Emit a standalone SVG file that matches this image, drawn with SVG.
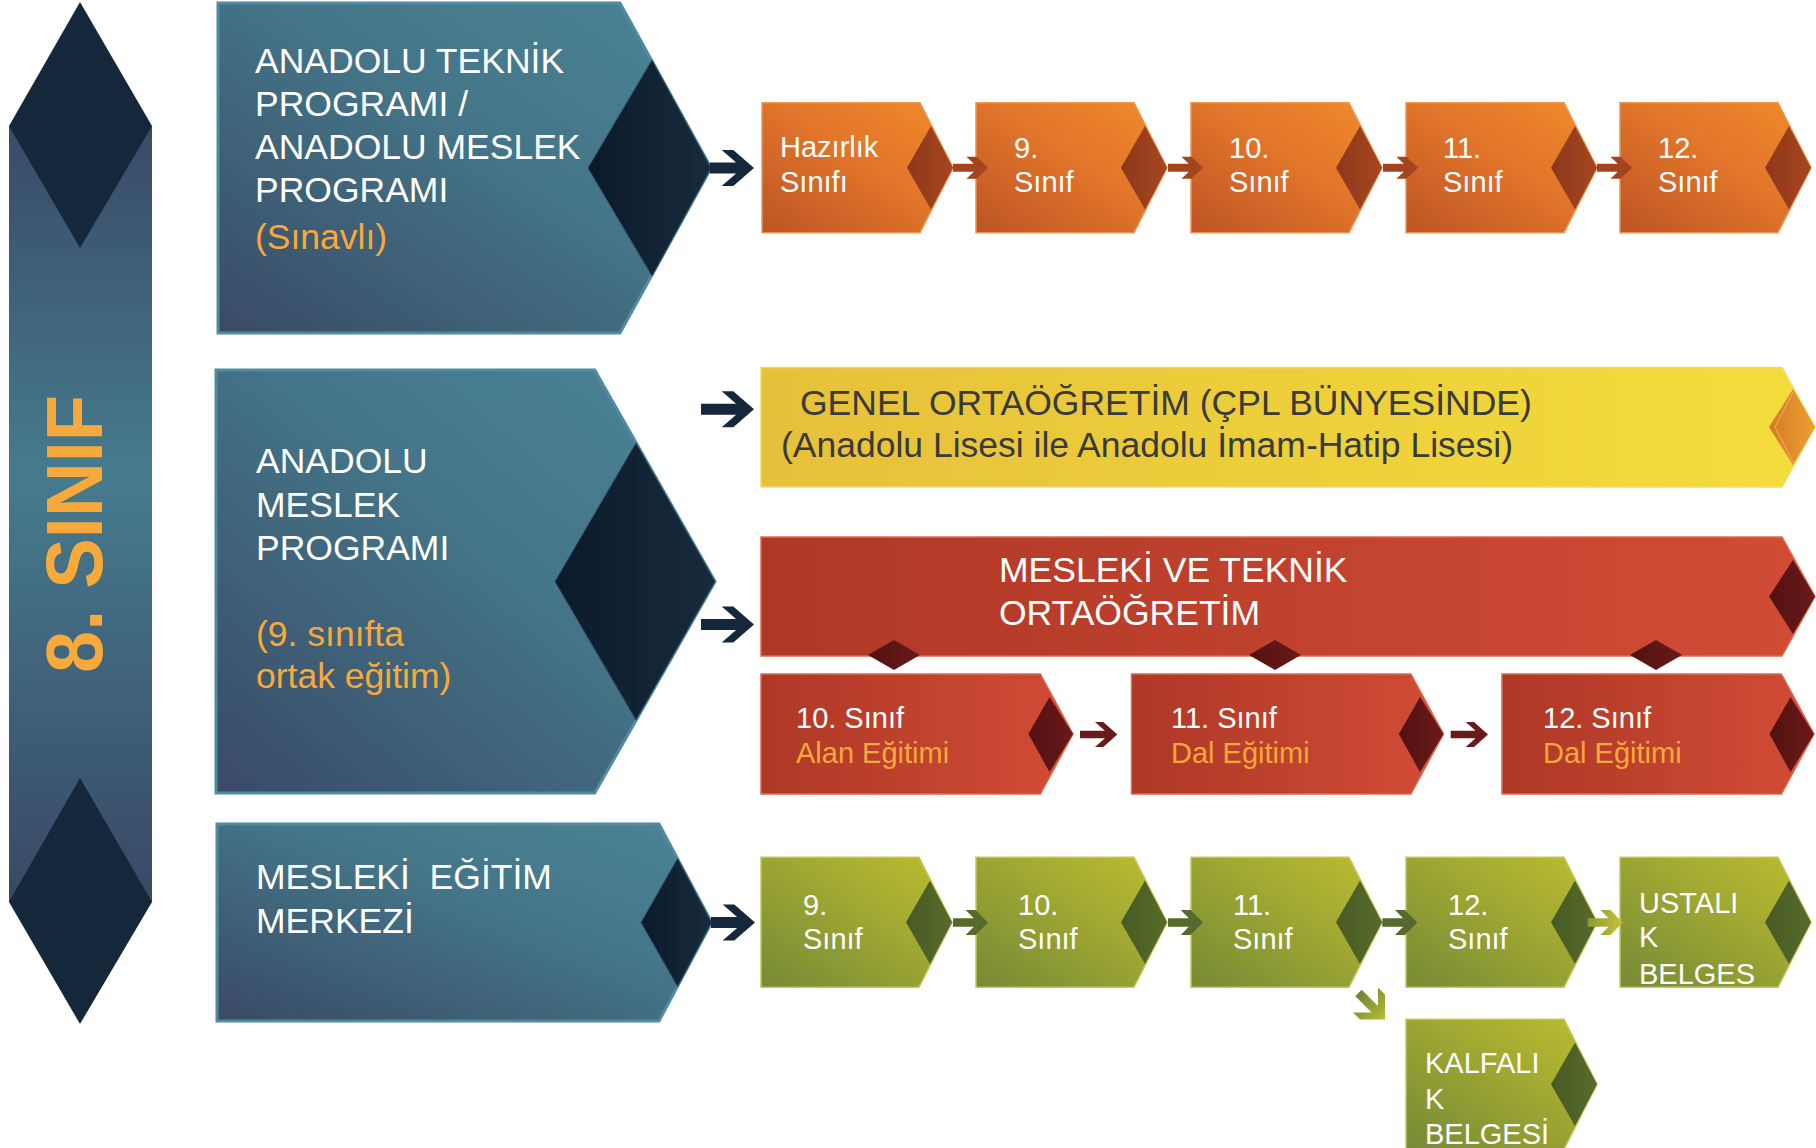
<svg xmlns="http://www.w3.org/2000/svg" xmlns:xlink="http://www.w3.org/1999/xlink" width="1816" height="1148" viewBox="0 0 1816 1148">
<defs>
<style>
text{font-family:"Liberation Sans",Arial,sans-serif;}
.w{fill:#ffffff;}
.o{fill:#f7a93b;}
.d{fill:#3a3a3a;}
.t35{font-size:35.5px;}
.t29{font-size:29px;}
.blue{fill:url(#gBlue);stroke:#4f8ca1;stroke-width:3;}
.navy{fill:url(#gNavy);stroke:#2e4a62;stroke-width:1;}
.orb{fill:url(#gOrange);stroke:#ec9650;stroke-width:1.5;}
.ord{fill:url(#gOrDia);}
.grb{fill:url(#gGreen);stroke:#c6c65a;stroke-width:1.5;}
.grd{fill:url(#gGrDia);}
.rdb{fill:url(#gRed);stroke:#dc6a50;stroke-width:1.5;}
.rdd{fill:url(#gRedDia);}
</style>
<linearGradient id="gBlue" x1="0" y1="1" x2="1" y2="0">
<stop offset="0" stop-color="#394a66"/><stop offset="0.55" stop-color="#447487"/><stop offset="1" stop-color="#4a8597"/>
</linearGradient>
<linearGradient id="gNavy" x1="0" y1="0" x2="1" y2="0">
<stop offset="0" stop-color="#0b1a29"/><stop offset="1" stop-color="#172b3d"/>
</linearGradient>
<linearGradient id="gBar" x1="0" y1="0" x2="0" y2="1">
<stop offset="0" stop-color="#394a68"/><stop offset="0.45" stop-color="#467b8e"/><stop offset="1" stop-color="#384865"/>
</linearGradient>
<linearGradient id="gOrange" x1="0" y1="1" x2="1" y2="0">
<stop offset="0" stop-color="#bd5426"/><stop offset="0.55" stop-color="#e2762a"/><stop offset="1" stop-color="#f08b2a"/>
</linearGradient>
<linearGradient id="gOrDia" x1="0" y1="0" x2="1" y2="0">
<stop offset="0" stop-color="#8c381c"/><stop offset="1" stop-color="#a8461f"/>
</linearGradient>
<linearGradient id="gGreen" x1="0" y1="1" x2="1" y2="0">
<stop offset="0" stop-color="#768a36"/><stop offset="0.6" stop-color="#a2aa32"/><stop offset="1" stop-color="#bdbd30"/>
</linearGradient>
<linearGradient id="gGrDia" x1="0" y1="0" x2="1" y2="0">
<stop offset="0" stop-color="#475b25"/><stop offset="1" stop-color="#566b2b"/>
</linearGradient>
<linearGradient id="gRed" x1="0" y1="0" x2="1" y2="0">
<stop offset="0" stop-color="#ae3826"/><stop offset="1" stop-color="#d24c36"/>
</linearGradient>
<linearGradient id="gRedDia" x1="0" y1="0" x2="1" y2="0">
<stop offset="0" stop-color="#521111"/><stop offset="1" stop-color="#6a1a1a"/>
</linearGradient>
<linearGradient id="gYellow" x1="0" y1="0" x2="1" y2="0">
<stop offset="0" stop-color="#e6c03a"/><stop offset="1" stop-color="#f3dd3b"/>
</linearGradient>
<linearGradient id="gYelDia" x1="0" y1="0" x2="1" y2="0">
<stop offset="0" stop-color="#d27a28"/><stop offset="1" stop-color="#eea032"/>
</linearGradient>
<linearGradient id="gDiag" x1="0" y1="0" x2="1" y2="0">
<stop offset="0" stop-color="#6e8530"/><stop offset="1" stop-color="#b8bc3a"/>
</linearGradient>
<linearGradient id="gLight" x1="0" y1="0" x2="1" y2="0">
<stop offset="0" stop-color="#8e9c32"/><stop offset="1" stop-color="#c2c23c"/>
</linearGradient>
<polygon id="sBox" points="0,0 158,0 191,65 158,130 0,130"/>
<polygon id="sDia" points="169,23.3 191,65 169,106.8 145,65"/>
<polygon id="rBox" points="0,0 279.4,0 312,60 279.4,120 0,120"/>
<polygon id="rDia" points="288.5,23 312,60 288.5,98 267.4,60"/>
<path id="aNavyL" d="M -53,-5.5 L -17.9,-5.5 L -32.3,-18 L -20.7,-18 L 0,0 L -20.7,18 L -32.3,18 L -17.9,5.5 L -53,5.5 Z"/>
<path id="aNavyS" d="M -44,-5.5 L -17.9,-5.5 L -32.3,-18 L -20.7,-18 L 0,0 L -20.7,18 L -32.3,18 L -17.9,5.5 L -44,5.5 Z"/>
<path id="aOr" d="M -35,-4 L -14.2,-4 L -21.6,-11 L -11.6,-11 L 0,0 L -11.6,11 L -21.6,11 L -14.2,4 L -35,4 Z"/>
<path id="aGr" d="M -35,-4.3 L -14.2,-4.3 L -22.3,-12.5 L -12.3,-12.5 L 0,0 L -12.3,12.5 L -22.3,12.5 L -14.2,4.3 L -35,4.3 Z"/>
<path id="aRd" d="M -37.3,-3.7 L -12.4,-3.7 L -22.3,-12.5 L -14,-12.5 L 0,0 L -14,12.5 L -22.3,12.5 L -12.4,3.7 L -37.3,3.7 Z"/>
<path id="aDg" d="M -37.5,-4.5 L -14.5,-4.5 L -27.7,-17.7 L -17.7,-17.7 L 0,0 L -17.7,17.7 L -27.7,17.7 L -14.5,4.5 L -37.5,4.5 Z"/>
</defs>
<rect width="1816" height="1148" fill="#ffffff"/>

<g id="sinif8">
<rect x="9" y="126" width="143" height="776" fill="url(#gBar)"/>
<polygon points="80,2 152,126 80,248 9,126" fill="#15273a"/>
<polygon points="80,778 152,902 80,1024 9,902" fill="#15273a"/>
<text transform="translate(102,534) rotate(-90)" text-anchor="middle" font-size="79" font-weight="bold" fill="#f7a93b" textLength="278" lengthAdjust="spacingAndGlyphs">8. SINIF</text>
</g>

<g id="anadolu-teknik">
<polygon class="blue" points="218,3 620,3 711,168 620,333 218,333"/>
<polygon class="navy" points="652,60 711,168 652,276 588,168"/>
<text class="t35 w" x="255" y="72.7">ANADOLU TEKNİK</text>
<text class="t35 w" x="255" y="116">PROGRAMI /</text>
<text class="t35 w" x="255" y="158.5">ANADOLU MESLEK</text>
<text class="t35 w" x="255" y="201.5">PROGRAMI</text>
<text class="t35 o" x="255" y="249">(Sınavlı)</text>
</g>

<g id="anadolu-meslek">
<polygon class="blue" points="216,370 594.7,370 715,581.5 594.7,793 216,793"/>
<polygon class="navy" points="636,443 715,581.5 636,720 555,581.5"/>
<text class="t35 w" x="256" y="472.7">ANADOLU</text>
<text class="t35 w" x="256" y="516.5">MESLEK</text>
<text class="t35 w" x="256" y="560">PROGRAMI</text>
<text class="t35 o" x="256" y="645.7">(9. sınıfta</text>
<text class="t35 o" x="256" y="688.3">ortak eğitim)</text>
</g>

<g id="mesleki-egitim-merkezi">
<polygon class="blue" points="217,824 659,824 711.5,922.5 659,1021 217,1021"/>
<polygon class="navy" points="677.6,858.5 711.5,922.5 677.6,986.5 641,922.5"/>
<text class="t35 w" x="256" y="889.3" style="white-space:pre">MESLEKİ  EĞİTİM</text>
<text class="t35 w" x="256" y="932.7">MERKEZİ</text>
</g>

<g id="or-hazirlik" transform="translate(762,102.7)">
<use href="#sBox" class="orb"/><use href="#sDia" class="ord"/>
<text class="t29 w" x="18" y="54.5">Hazırlık</text>
<text class="t29 w" x="18" y="89">Sınıfı</text>
</g>
<g id="or-9" transform="translate(976,102.7)">
<use href="#sBox" class="orb"/><use href="#sDia" class="ord"/>
<text class="t29 w" x="38" y="55">9.</text>
<text class="t29 w" x="38" y="89.5">Sınıf</text>
</g>
<g id="or-10" transform="translate(1191,102.7)">
<use href="#sBox" class="orb"/><use href="#sDia" class="ord"/>
<text class="t29 w" x="38" y="55">10.</text>
<text class="t29 w" x="38" y="89.5">Sınıf</text>
</g>
<g id="or-11" transform="translate(1406,102.7)">
<use href="#sBox" class="orb"/><use href="#sDia" class="ord"/>
<text class="t29 w" x="37" y="55">11.</text>
<text class="t29 w" x="37" y="89.5">Sınıf</text>
</g>
<g id="or-12" transform="translate(1620,102.7)">
<use href="#sBox" class="orb"/><use href="#sDia" class="ord"/>
<text class="t29 w" x="38" y="55">12.</text>
<text class="t29 w" x="38" y="89.5">Sınıf</text>
</g>

<g id="genel-ortaogretim">
<polygon points="761,367.5 1782,367.5 1815,427 1782,487 761,487" fill="url(#gYellow)" stroke="#f4da6a" stroke-width="1.5"/>
<polygon points="1793,389 1815,427 1793,465 1769,427" fill="url(#gYelDia)"/>
<polyline points="1793,392 1775,427 1793,462" fill="none" stroke="#f2b45a" stroke-width="1"/>
<text class="t35 d" x="800" y="415">GENEL ORTAÖĞRETİM (ÇPL BÜNYESİNDE)</text>
<text class="t35 d" x="781" y="457.3">(Anadolu Lisesi ile Anadolu İmam-Hatip Lisesi)</text>
</g>

<g id="mesleki-teknik">
<polygon points="761,537 1782,537 1815,596.5 1782,656 761,656" fill="url(#gRed)" stroke="#dc6a50" stroke-width="1.5"/>
<polygon class="rdd" points="1793,560 1815,596.5 1793,634 1769,596.5"/>
<polygon class="rdd" points="894,640 920,655 894,670 868,655"/>
<polygon class="rdd" points="1275,640 1301,655 1275,670 1249,655"/>
<polygon class="rdd" points="1656,640 1682,655 1656,670 1630,655"/>
<text class="t35 w" x="999" y="581.7">MESLEKİ VE TEKNİK</text>
<text class="t35 w" x="999" y="625">ORTAÖĞRETİM</text>
</g>

<g id="rd-10" transform="translate(761,674)">
<use href="#rBox" class="rdb"/><use href="#rDia" class="rdd"/>
<text class="t29 w" x="35" y="54">10. Sınıf</text>
<text class="t29 o" x="35" y="89">Alan Eğitimi</text>
</g>
<g id="rd-11" transform="translate(1131.5,674)">
<use href="#rBox" class="rdb"/><use href="#rDia" class="rdd"/>
<text class="t29 w" x="39.5" y="54">11. Sınıf</text>
<text class="t29 o" x="39.5" y="89">Dal Eğitimi</text>
</g>
<g id="rd-12" transform="translate(1502,674)">
<use href="#rBox" class="rdb"/><use href="#rDia" class="rdd"/>
<text class="t29 w" x="41" y="54">12. Sınıf</text>
<text class="t29 o" x="41" y="89">Dal Eğitimi</text>
</g>

<g id="gr-9" transform="translate(761,857.3)">
<use href="#sBox" class="grb"/><use href="#sDia" class="grd"/>
<text class="t29 w" x="42" y="57.7">9.</text>
<text class="t29 w" x="42" y="91.7">Sınıf</text>
</g>
<g id="gr-10" transform="translate(976,857.3)">
<use href="#sBox" class="grb"/><use href="#sDia" class="grd"/>
<text class="t29 w" x="42" y="57.7">10.</text>
<text class="t29 w" x="42" y="91.7">Sınıf</text>
</g>
<g id="gr-11" transform="translate(1191,857.3)">
<use href="#sBox" class="grb"/><use href="#sDia" class="grd"/>
<text class="t29 w" x="42" y="57.7">11.</text>
<text class="t29 w" x="42" y="91.7">Sınıf</text>
</g>
<g id="gr-12" transform="translate(1406,857.3)">
<use href="#sBox" class="grb"/><use href="#sDia" class="grd"/>
<text class="t29 w" x="42" y="57.7">12.</text>
<text class="t29 w" x="42" y="91.7">Sınıf</text>
</g>
<g id="ustalik" transform="translate(1620,857.3)">
<use href="#sBox" class="grb"/><use href="#sDia" class="grd"/>
<text class="t29 w" x="19" y="55.4">USTALI</text>
<text class="t29 w" x="19" y="89.7">K</text>
<text class="t29 w" x="19" y="126.7">BELGES</text>
</g>
<g id="kalfalik" transform="translate(1406,1019.3)">
<use href="#sBox" class="grb"/><use href="#sDia" class="grd"/>
<text class="t29 w" x="19" y="54">KALFALI</text>
<text class="t29 w" x="19" y="89.7">K</text>
<text class="t29 w" x="19" y="124.7">BELGESİ</text>
</g>

<g id="connectors">
<use href="#aNavyS" transform="translate(754,168)" fill="#15273a"/>
<use href="#aNavyL" transform="translate(754,409.3)" fill="#15273a"/>
<use href="#aNavyL" transform="translate(754,624.5)" fill="#15273a"/>
<use href="#aNavyS" transform="translate(755,922.5)" fill="#15273a"/>
<use href="#aOr" transform="translate(988,167.7)" fill="#a3441f"/>
<use href="#aOr" transform="translate(1203,167.7)" fill="#a3441f"/>
<use href="#aOr" transform="translate(1418,167.7)" fill="#a3441f"/>
<use href="#aOr" transform="translate(1632,167.7)" fill="#a3441f"/>
<use href="#aRd" transform="translate(1117.3,734.5)" fill="#6a1a1a"/>
<use href="#aRd" transform="translate(1488,734.5)" fill="#6a1a1a"/>
<use href="#aGr" transform="translate(988,922.5)" fill="#566b2b"/>
<use href="#aGr" transform="translate(1203,922.5)" fill="#566b2b"/>
<use href="#aGr" transform="translate(1417.3,922.5)" fill="#566b2b"/>
<use href="#aGr" transform="translate(1622.7,922.5)" fill="url(#gLight)"/>
<use href="#aDg" transform="translate(1385,1019.5) rotate(45)" fill="url(#gDiag)"/>
</g>
</svg>
